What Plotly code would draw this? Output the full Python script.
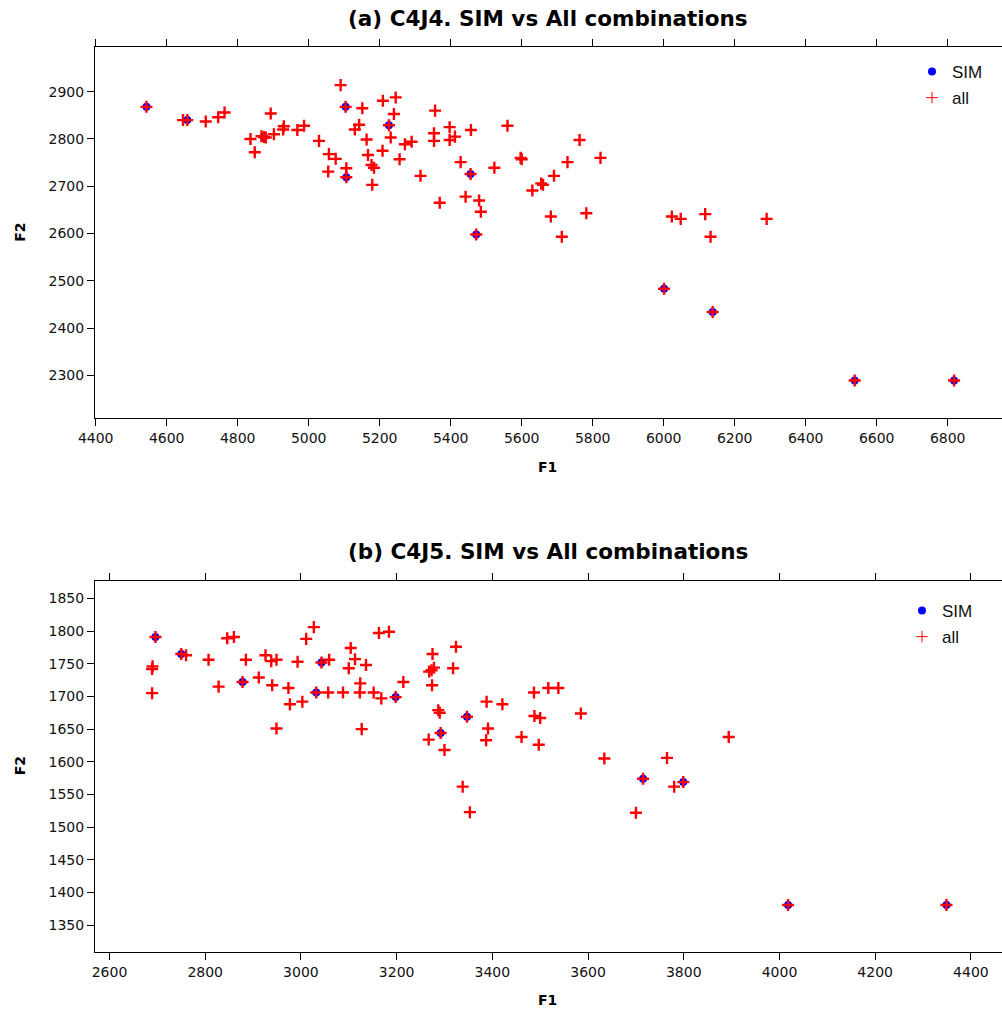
import plotly.graph_objects as go

# ---------------- Panel (a) C4J4 ----------------
a_sim_f1 = [4543, 4658, 4874, 5104, 5106, 5226, 5456, 5472, 6001, 6138, 6538, 6818]
a_sim_f2 = [2868, 2840, 2804, 2868, 2719, 2829, 2726, 2598, 2483, 2434, 2289, 2289]

a_all_f1 = [4543, 4646, 4658, 4710, 4745, 4763, 4836, 4848, 4867, 4874, 4879, 4893,
            4902, 4928, 4930, 4968, 4987, 5029, 5055, 5057, 5076, 5090, 5104, 5106,
            5106, 5130, 5142, 5151, 5163, 5167, 5177, 5184, 5179, 5209, 5208, 5226,
            5231, 5240, 5245, 5256, 5271, 5290, 5315, 5353, 5353, 5356, 5369, 5397,
            5397, 5412, 5428, 5442, 5457, 5456, 5472, 5480, 5485, 5523, 5560, 5597,
            5600, 5630, 5655, 5660, 5682, 5691, 5713, 5729, 5763, 5782, 5822, 6001,
            6023, 6048, 6117, 6132, 6138, 6290, 6538, 6818]
a_all_f2 = [2868, 2840, 2840, 2837, 2846, 2856, 2800, 2772, 2806, 2804, 2803, 2854,
            2810, 2820, 2827, 2819, 2828, 2796, 2731, 2768, 2758, 2914, 2868, 2738,
            2719, 2820, 2830, 2865, 2799, 2766, 2745, 2739, 2703, 2881, 2775, 2829,
            2803, 2853, 2888, 2757, 2789, 2794, 2722, 2812, 2796, 2860, 2665, 2825,
            2798, 2805, 2751, 2678, 2819, 2726, 2598, 2670, 2646, 2739, 2828, 2760,
            2757, 2691, 2706, 2703, 2636, 2722, 2593, 2751, 2798, 2643, 2760, 2483,
            2636, 2631, 2641, 2593, 2434, 2631, 2289, 2289]

# ---------------- Panel (b) C4J5 ----------------
b_sim_f1 = [2696, 2750, 2878, 3032, 3043, 3198, 3292, 3347, 3715, 3799, 4018, 4349]
b_sim_f2 = [1791, 1765, 1722, 1706, 1752, 1699, 1644, 1669, 1574, 1569, 1381, 1381]

b_all_f1 = [2696, 2690, 2689, 2689, 2750, 2760, 2807, 2828, 2846, 2860, 2878, 2885,
            2912, 2926, 2938, 2949, 2940, 2949, 2974, 2977, 2993, 3003, 3011, 3027,
            3032, 3043, 3057, 3059, 3088, 3100, 3104, 3113, 3124, 3123, 3127, 3136,
            3152, 3163, 3168, 3184, 3198, 3214, 3268, 3267, 3273, 3274, 3275, 3278,
            3287, 3290, 3292, 3300, 3318, 3324, 3338, 3347, 3353, 3387, 3388, 3391,
            3421, 3461, 3487, 3488, 3500, 3497, 3517, 3538, 3585, 3634, 3700, 3715,
            3765, 3780, 3799, 3894, 4018, 4349]
b_all_f2 = [1791, 1746, 1742, 1705, 1765, 1763, 1756, 1715, 1789, 1791, 1722, 1756,
            1729, 1763, 1754, 1756, 1717, 1651, 1713, 1688, 1753, 1692, 1788, 1806,
            1706, 1752, 1706, 1756, 1706, 1743, 1774, 1757, 1720, 1706, 1650, 1748,
            1706, 1797, 1697, 1799, 1699, 1722, 1738, 1634, 1740, 1717, 1765, 1744,
            1679, 1675, 1644, 1618, 1743, 1776, 1562, 1669, 1523, 1633, 1692, 1651,
            1688, 1638, 1706, 1670, 1667, 1626, 1713, 1713, 1674, 1605, 1522, 1574,
            1606, 1562, 1569, 1638, 1381, 1381]

titles = ["(a) C4J4. SIM vs All combinations", "(b) C4J5. SIM vs All combinations"]
x_label = "F1"
y_label = "F2"

W, H = 1002, 1014
FONT = "Liberation Sans, Arial, sans-serif"
TICKFONT = dict(family="DejaVu Sans, sans-serif", size=14, color="#111")
BLUE = "#0000FF"
RED = "#FF0000"

fig = go.Figure()

def add_panel(sim_x, sim_y, all_x, all_y, xa, ya, legend):
    fig.add_trace(go.Scatter(x=sim_x, y=sim_y, mode="markers", name="SIM",
                             xaxis=xa, yaxis=ya, showlegend=False,
                             marker=dict(symbol="circle", size=8, color=BLUE)))
    fig.add_trace(go.Scatter(x=all_x, y=all_y, mode="markers", name="all",
                             xaxis=xa, yaxis=ya, showlegend=False,
                             marker=dict(symbol="cross-thin", size=8.6, color=RED,
                                         line=dict(color=RED, width=2.4))))
    # legend entries
    fig.add_trace(go.Scatter(x=[None], y=[None], mode="markers", name="SIM",
                             xaxis=xa, yaxis=ya, legend=legend, legendgroup=legend + "s",
                             marker=dict(symbol="circle", size=8, color=BLUE)))
    fig.add_trace(go.Scatter(x=[None], y=[None], mode="markers", name="all",
                             xaxis=xa, yaxis=ya, legend=legend, legendgroup=legend + "a",
                             marker=dict(symbol="cross-thin", size=8.2, color=RED,
                                         line=dict(color=RED, width=1))))

add_panel(a_sim_f1, a_sim_f2, a_all_f1, a_all_f2, "x", "y", "legend")
add_panel(b_sim_f1, b_sim_f2, b_all_f1, b_all_f2, "x2", "y2", "legend2")

def py(px):
    return 1 - px / H

axis_common = dict(showgrid=False, zeroline=False, showline=True, linecolor="black",
                   linewidth=1, ticks="outside", ticklen=7,
                   tickwidth=1, tickcolor="black", tickfont=TICKFONT, automargin=False)
x_common = dict(mirror="ticks", **axis_common)
y_common = dict(mirror=False, **axis_common)

legend_common = dict(font=dict(family=FONT, size=17, color="#111"), bgcolor="rgba(0,0,0,0)",
                     xanchor="left", yanchor="top", tracegroupgap=1, itemwidth=30)

fig.update_layout(
    width=W, height=H,
    margin=dict(l=0, r=0, t=0, b=0),
    paper_bgcolor="white", plot_bgcolor="white",
    xaxis=dict(domain=[95 / W, 1.0], range=[4398, 6953], dtick=200, anchor="y", **x_common),
    yaxis=dict(domain=[py(418.3), py(47.3)], range=[2209, 2994], dtick=100, anchor="x", **y_common),
    xaxis2=dict(domain=[95 / W, 1.0], range=[2569.7, 4465], dtick=200, anchor="y2", **x_common),
    yaxis2=dict(domain=[py(951.7), py(580.7)], range=[1309.6, 1877], dtick=50, anchor="x2", **y_common),
    legend=dict(x=912 / W, y=py(54), **legend_common),
    legend2=dict(x=902 / W, y=py(593), **legend_common),
    showlegend=True,
)

ann = []
for title, yc in zip(titles, [19, 551]):
    ann.append(dict(text="<b>%s</b>" % title, x=547.5 / W, y=py(yc), xref="paper", yref="paper",
                    xanchor="center", yanchor="middle", showarrow=False,
                    font=dict(family="DejaVu Sans, sans-serif", size=21.5, color="black")))
for yc in [467, 1000]:
    ann.append(dict(text="<b>%s</b>" % x_label, x=547.5 / W, y=py(yc), xref="paper", yref="paper",
                    xanchor="center", yanchor="middle", showarrow=False,
                    font=dict(family="DejaVu Sans, sans-serif", size=14, color="black")))
for yc in [232.8, 766.2]:
    ann.append(dict(text="<b>%s</b>" % y_label, x=20 / W, y=py(yc), xref="paper", yref="paper",
                    xanchor="center", yanchor="middle", showarrow=False, textangle=-90,
                    font=dict(family="DejaVu Sans, sans-serif", size=14, color="black")))
fig.update_layout(annotations=ann)

fig.write_html("out.html")
